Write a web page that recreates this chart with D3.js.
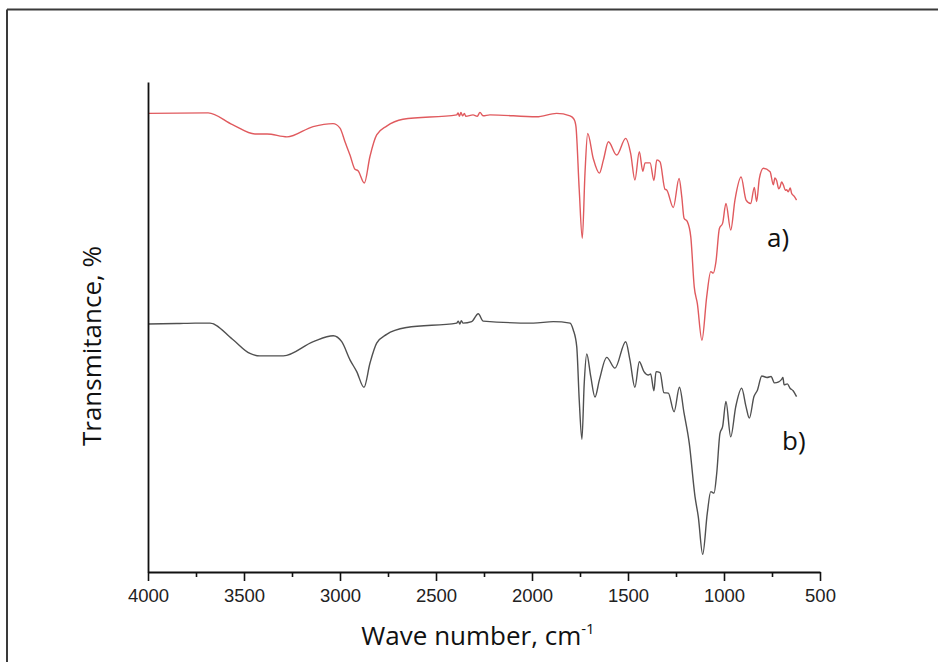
<!DOCTYPE html>
<html>
<head>
<meta charset="utf-8">
<script src="https://cdn.jsdelivr.net/npm/d3@7/dist/d3.min.js"></script>
<style>
  html, body { margin: 0; padding: 0; background: #fff; }
  svg { display: block; }
</style>
</head>
<body>
<svg id="chart" width="938" height="662"></svg>
<script>
// ---- Data ----
const xTicks = [4000, 3500, 3000, 2500, 2000, 1500, 1000, 500];
const xMinorTicks = [3750, 3250, 2750, 2250, 1750, 1250, 750];
const xTitle = "Wave number, cm";
const yTitle = "Transmitance, %";
const seriesLabels = ["a)", "b)"];

// Series a) (red)
const waveA = [4000, 3687, 3560, 3443, 3380, 3276, 3140, 3036, 3000, 2974, 2948, 2922, 2906, 2873, 2844, 2809, 2757, 2672,
  2392, 2385, 2378, 2370, 2362, 2352, 2345, 2307, 2285, 2271, 2255, 2219, 1976, 1872, 1802, 1785, 1776, 1771, 1754, 1738, 1724, 1710,
  1681, 1649, 1628, 1602, 1559, 1512, 1486, 1464, 1441, 1423, 1411, 1385, 1365, 1350, 1333, 1307, 1299, 1264, 1234,
  1220, 1208, 1191, 1173, 1155, 1139, 1115, 1090, 1069, 1056, 1042, 1024, 1007, 990, 965, 943, 911, 885, 861, 842,
  830, 816, 795, 760, 743, 735, 726, 715, 708, 700, 691, 680, 674, 665, 655, 648, 635, 622];
const transA = [93.6, 93.7, 91.3, 89.4, 89.4, 88.8, 90.9, 91.5, 90.6, 87.8, 85.1, 82.2, 81.9, 79.4, 84.8, 89.2, 91.0, 92.4,
  93.3, 93.7, 93.0, 93.8, 93.1, 93.6, 93.0, 93.3, 93.0, 93.8, 93.1, 93.3, 92.9, 93.6, 93.1, 92.6, 91.9, 90.9, 78.0, 68.1, 81.4, 89.5,
  84.4, 81.4, 84.1, 87.8, 85.1, 88.5, 85.4, 80.0, 85.8, 81.8, 83.5, 83.5, 79.9, 84.1, 83.7, 78.1, 78.0, 74.4, 80.3,
  76.6, 72.2, 71.5, 68.4, 58.2, 54.8, 47.3, 56.2, 61.3, 61.0, 63.3, 70.1, 71.2, 75.2, 69.8, 75.9, 80.6, 75.9, 75.2, 78.5,
  75.6, 80.3, 82.4, 81.7, 79.0, 80.4, 79.9, 78.2, 78.6, 79.6, 79.0, 77.9, 78.0, 77.6, 78.4, 77.3, 76.7, 75.9];

// Series b) (grey)
const waveB = [4000, 3850, 3755, 3677, 3560, 3469, 3417, 3295, 3139, 3035, 2991, 2948, 2913, 2875, 2844, 2809, 2757, 2653,
  2392, 2384, 2376, 2368, 2360, 2314, 2280, 2254, 1993, 1889, 1802, 1785, 1767, 1754, 1740, 1728, 1715,
  1694, 1672, 1649, 1611, 1568, 1512, 1490, 1464, 1441, 1417, 1394, 1382, 1365, 1354, 1333, 1313, 1290, 1260, 1232,
  1208, 1181, 1151, 1134, 1111, 1087, 1069, 1052, 1038, 1021, 1007, 990, 965, 939, 908, 885, 868, 844, 826, 803,
  776, 755, 737, 715, 700, 693, 687, 670, 656, 640, 622];
const transB = [50.6, 50.7, 50.8, 50.8, 47.5, 44.6, 44.1, 44.1, 47.0, 48.2, 47.0, 43.3, 40.9, 37.7, 42.6, 46.7, 48.5, 49.9,
  50.8, 51.2, 50.6, 51.3, 50.8, 51.1, 52.7, 51.2, 50.8, 51.1, 50.8, 49.4, 46.0, 35.1, 27.1, 38.5, 44.5,
  39.9, 35.7, 39.2, 43.8, 41.6, 47.0, 43.3, 37.7, 42.9, 40.9, 40.2, 40.4, 37.0, 40.9, 40.7, 36.6, 36.5, 32.7, 37.7,
  32.4, 26.3, 15.4, 11.3, 3.6, 12.0, 16.4, 16.1, 20.1, 28.3, 29.7, 34.8, 27.6, 33.7, 37.5, 33.7, 31.4, 35.8, 37.1, 40.0,
  39.7, 39.9, 38.6, 38.8, 39.3, 39.7, 38.2, 38.4, 37.5, 37.0, 35.8];

// ---- Layout ----
const svg = d3.select("#chart");
const plot = { left: 148, right: 820, top: 82, bottom: 572 };

const x = d3.scaleLinear().domain([4000, 500]).range([plot.left, plot.right]);
const y = d3.scaleLinear().domain([0, 100]).range([plot.bottom, plot.top]);

// Frame lines (top and left edges of the figure)
svg.append("line").attr("x1", 7).attr("x2", 938).attr("y1", 9.5).attr("y2", 9.5)
  .attr("stroke", "#3a3a3a").attr("stroke-width", 2);
svg.append("line").attr("x1", 7).attr("x2", 7).attr("y1", 9.5).attr("y2", 662)
  .attr("stroke", "#3a3a3a").attr("stroke-width", 2);

// Spectra
const line = d3.line().x(d => x(d[0])).y(d => y(d[1])).curve(d3.curveMonotoneX);
const dataA = waveA.map((w, i) => [w, transA[i]]);
const dataB = waveB.map((w, i) => [w, transB[i]]);

svg.append("path").datum(dataA).attr("d", line)
  .attr("fill", "none").attr("stroke", "#e05a5e").attr("stroke-width", 1.4).attr("stroke-linejoin", "round");
svg.append("path").datum(dataB).attr("d", line)
  .attr("fill", "none").attr("stroke", "#505050").attr("stroke-width", 1.4).attr("stroke-linejoin", "round");

// X axis (major + minor)
const gx = svg.append("g").attr("transform", `translate(0,${plot.bottom})`);
gx.call(d3.axisBottom(x).tickValues(xTicks).tickSize(9).tickSizeOuter(0).tickPadding(8).tickFormat(d3.format("d")));
gx.select(".domain").attr("stroke", "#111").attr("stroke-width", 1.8);
gx.selectAll(".tick line").attr("stroke", "#111").attr("stroke-width", 1.6);
gx.selectAll(".tick text").attr("font-family", "'Liberation Sans', Arial, sans-serif")
  .attr("font-size", 18.5).attr("fill", "#222");

const gxm = svg.append("g").attr("transform", `translate(0,${plot.bottom})`);
gxm.call(d3.axisBottom(x).tickValues(xMinorTicks).tickSize(5).tickSizeOuter(0).tickFormat(""));
gxm.select(".domain").remove();
gxm.selectAll(".tick line").attr("stroke", "#111").attr("stroke-width", 1.6);

// Y axis: plain line, no ticks
const gy = svg.append("g").attr("transform", `translate(${plot.left},0)`);
gy.call(d3.axisLeft(y).tickValues([]).tickSizeOuter(0));
gy.select(".domain").attr("stroke", "#111").attr("stroke-width", 1.8);

// Titles
const titleFont = "'Open Sans', 'Noto Sans', sans-serif";
const xt = svg.append("text").attr("x", 478).attr("y", 645).attr("text-anchor", "middle")
  .attr("font-family", titleFont).attr("font-size", 26).attr("fill", "#111");
xt.append("tspan").text(xTitle);
xt.append("tspan").attr("font-size", 15).attr("dy", -11).text("-1");

svg.append("text").attr("transform", "translate(101,346) rotate(-90)").attr("text-anchor", "middle")
  .attr("font-family", titleFont).attr("font-size", 26).attr("fill", "#111").text(yTitle);

// Series labels
svg.append("text").attr("x", 767).attr("y", 247).attr("font-family", titleFont)
  .attr("font-size", 26).attr("fill", "#111").text(seriesLabels[0]);
svg.append("text").attr("x", 782).attr("y", 450).attr("font-family", titleFont)
  .attr("font-size", 26).attr("fill", "#111").text(seriesLabels[1]);
</script>
</body>
</html>
